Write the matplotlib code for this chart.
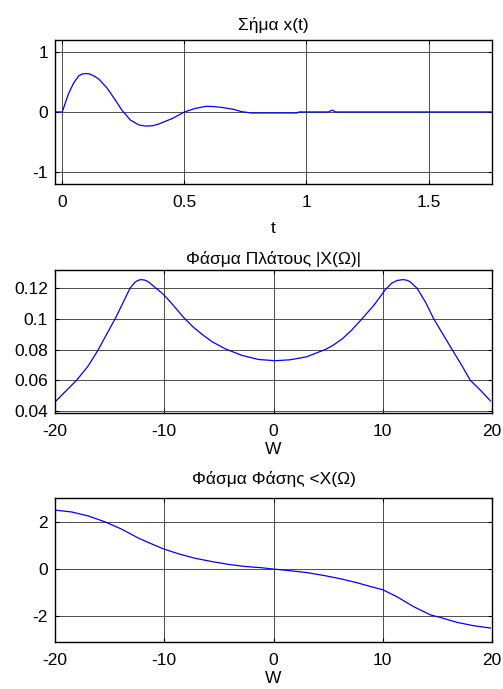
import numpy as np
import matplotlib
matplotlib.use("Agg")
import matplotlib.pyplot as plt

plt.rcParams['font.family'] = ['Liberation Sans', 'DejaVu Sans']
plt.rcParams['axes.unicode_minus'] = False

# Σήμα x(t)
t = [-0.03, 0.0, 0.013, 0.026, 0.046, 0.067, 0.08, 0.094, 0.11, 0.13, 0.149, 0.183,
     0.217, 0.244, 0.279, 0.313, 0.34, 0.37, 0.395, 0.45, 0.5, 0.545, 0.59, 0.62,
     0.654, 0.70, 0.735, 0.775, 0.96, 0.97, 1.09, 1.105, 1.12, 1.76]
x = [0.0, 0.0, 0.16, 0.31, 0.48, 0.60, 0.63, 0.64, 0.635, 0.60, 0.55, 0.40,
     0.20, 0.03, -0.135, -0.215, -0.235, -0.23, -0.20, -0.11, 0.0, 0.06, 0.095, 0.09,
     0.075, 0.045, 0.005, -0.017, -0.017, 0.0, 0.0, 0.03, 0.0, 0.0]

# Φάσμα Πλάτους |X(Ω)|
w_mag = [-20, -19.08, -18.02, -16.95, -16.03, -15.27, -14.5, -13.74, -13.13, -12.67,
         -12.4, -12.12, -11.8, -11.45, -10.84, -10.08, -9.31, -8.24, -7.4, -6.56,
         -5.65, -4.43, -2.9, -1.37, 0.15, 1.5, 3.0, 4.73, 5.5, 6.3, 7.2, 8.09, 9.2,
         10.23, 10.8, 11.3, 11.85, 12.2, 12.5, 13.13, 13.9, 14.66, 15.5, 16.34, 17.2,
         18.0, 19.0, 19.85]
mag = [0.0458, 0.0524, 0.0600, 0.0694, 0.0800, 0.0900, 0.1000, 0.1110, 0.1200, 0.1240,
       0.1251, 0.1256, 0.1253, 0.1242, 0.1205, 0.1160, 0.1100, 0.1010, 0.0950, 0.0900,
       0.0852, 0.0805, 0.0762, 0.0735, 0.0727, 0.0733, 0.0752, 0.0800, 0.0830, 0.0870,
       0.0930, 0.1000, 0.1090, 0.1190, 0.1232, 0.1250, 0.1256, 0.1252, 0.1242, 0.1200,
       0.1110, 0.1000, 0.0900, 0.0800, 0.0700, 0.0600, 0.0530, 0.0465]

# Φάσμα Φάσης <X(Ω)
w_ph = [-20, -18.47, -16.95, -15.42, -13.9, -12.37, -11.15, -10.08, -8.7, -7.18,
        -5.65, -4.12, -2.6, -1.07, 0, 1.53, 3.05, 4.58, 6.1, 7.63, 8.85, 10.0,
        11.3, 12.82, 14.35, 15.27, 16.8, 18.3, 19.85]
ph = [2.51, 2.43, 2.26, 2.01, 1.70, 1.32, 1.07, 0.86, 0.65, 0.46,
      0.32, 0.20, 0.11, 0.056, 0.0, -0.07, -0.15, -0.27, -0.41, -0.58, -0.74, -0.88,
      -1.18, -1.6, -1.95, -2.06, -2.27, -2.41, -2.51]

t_ticks = [0, 0.5, 1, 1.5]
t_labels = ['0', '0.5', '1', '1.5']
x_ticks = [-1, 0, 1]
w_ticks = [-20, -10, 0, 10, 20]
mag_ticks = [0.04, 0.06, 0.08, 0.1, 0.12]
mag_labels = ['0.04', '0.06', '0.08', '0.1', '0.12']
ph_ticks = [-2, 0, 2]

fig = plt.figure(figsize=(5.03, 6.89), dpi=100)
ax1 = fig.add_axes([0.1093, 0.733, 0.869, 0.209])
ax2 = fig.add_axes([0.1093, 0.401, 0.869, 0.207])
ax3 = fig.add_axes([0.1093, 0.0687, 0.869, 0.208])

FS = 12.5


def style(ax):
    ax.grid(True, color='0.3', linewidth=0.7)
    ax.tick_params(direction='in', length=3, width=0.8, top=True, right=True,
                   labelsize=FS, colors='black', pad=5)
    ax.tick_params(axis='x', pad=8)
    for s in ax.spines.values():
        s.set_linewidth(1.0)


ax1.plot(t, x, color='blue', linewidth=0.9)
ax1.set_xlim(-0.03, 1.76)
ax1.set_ylim(-1.2, 1.2)
ax1.set_xticks(t_ticks)
ax1.set_xticklabels(t_labels)
ax1.set_yticks(x_ticks)
ax1.set_xlabel('t', fontsize=FS, labelpad=8)
ax1.set_title('Σήμα x(t)', fontsize=FS, pad=7)
style(ax1)

ax2.plot(w_mag, mag, color='blue', linewidth=0.9)
ax2.set_xlim(-20, 20)
ax2.set_ylim(0.0388, 0.1318)
ax2.set_xticks(w_ticks)
ax2.set_yticks(mag_ticks)
ax2.set_yticklabels(mag_labels)
ax2.set_xlabel('W', fontsize=FS, labelpad=2.5)
ax2.set_title('Φάσμα Πλάτους |X(Ω)|', fontsize=FS, pad=4.3)
style(ax2)

ax3.plot(w_ph, ph, color='blue', linewidth=0.9)
ax3.set_xlim(-20, 20)
ax3.set_ylim(-3.09, 3.01)
ax3.set_xticks(w_ticks)
ax3.set_yticks(ph_ticks)
ax3.set_xlabel('W', fontsize=FS, labelpad=2.5)
ax3.set_title('Φάσμα Φάσης <X(Ω)', fontsize=FS, pad=10)
style(ax3)

fig.savefig('out.png', dpi=100)
